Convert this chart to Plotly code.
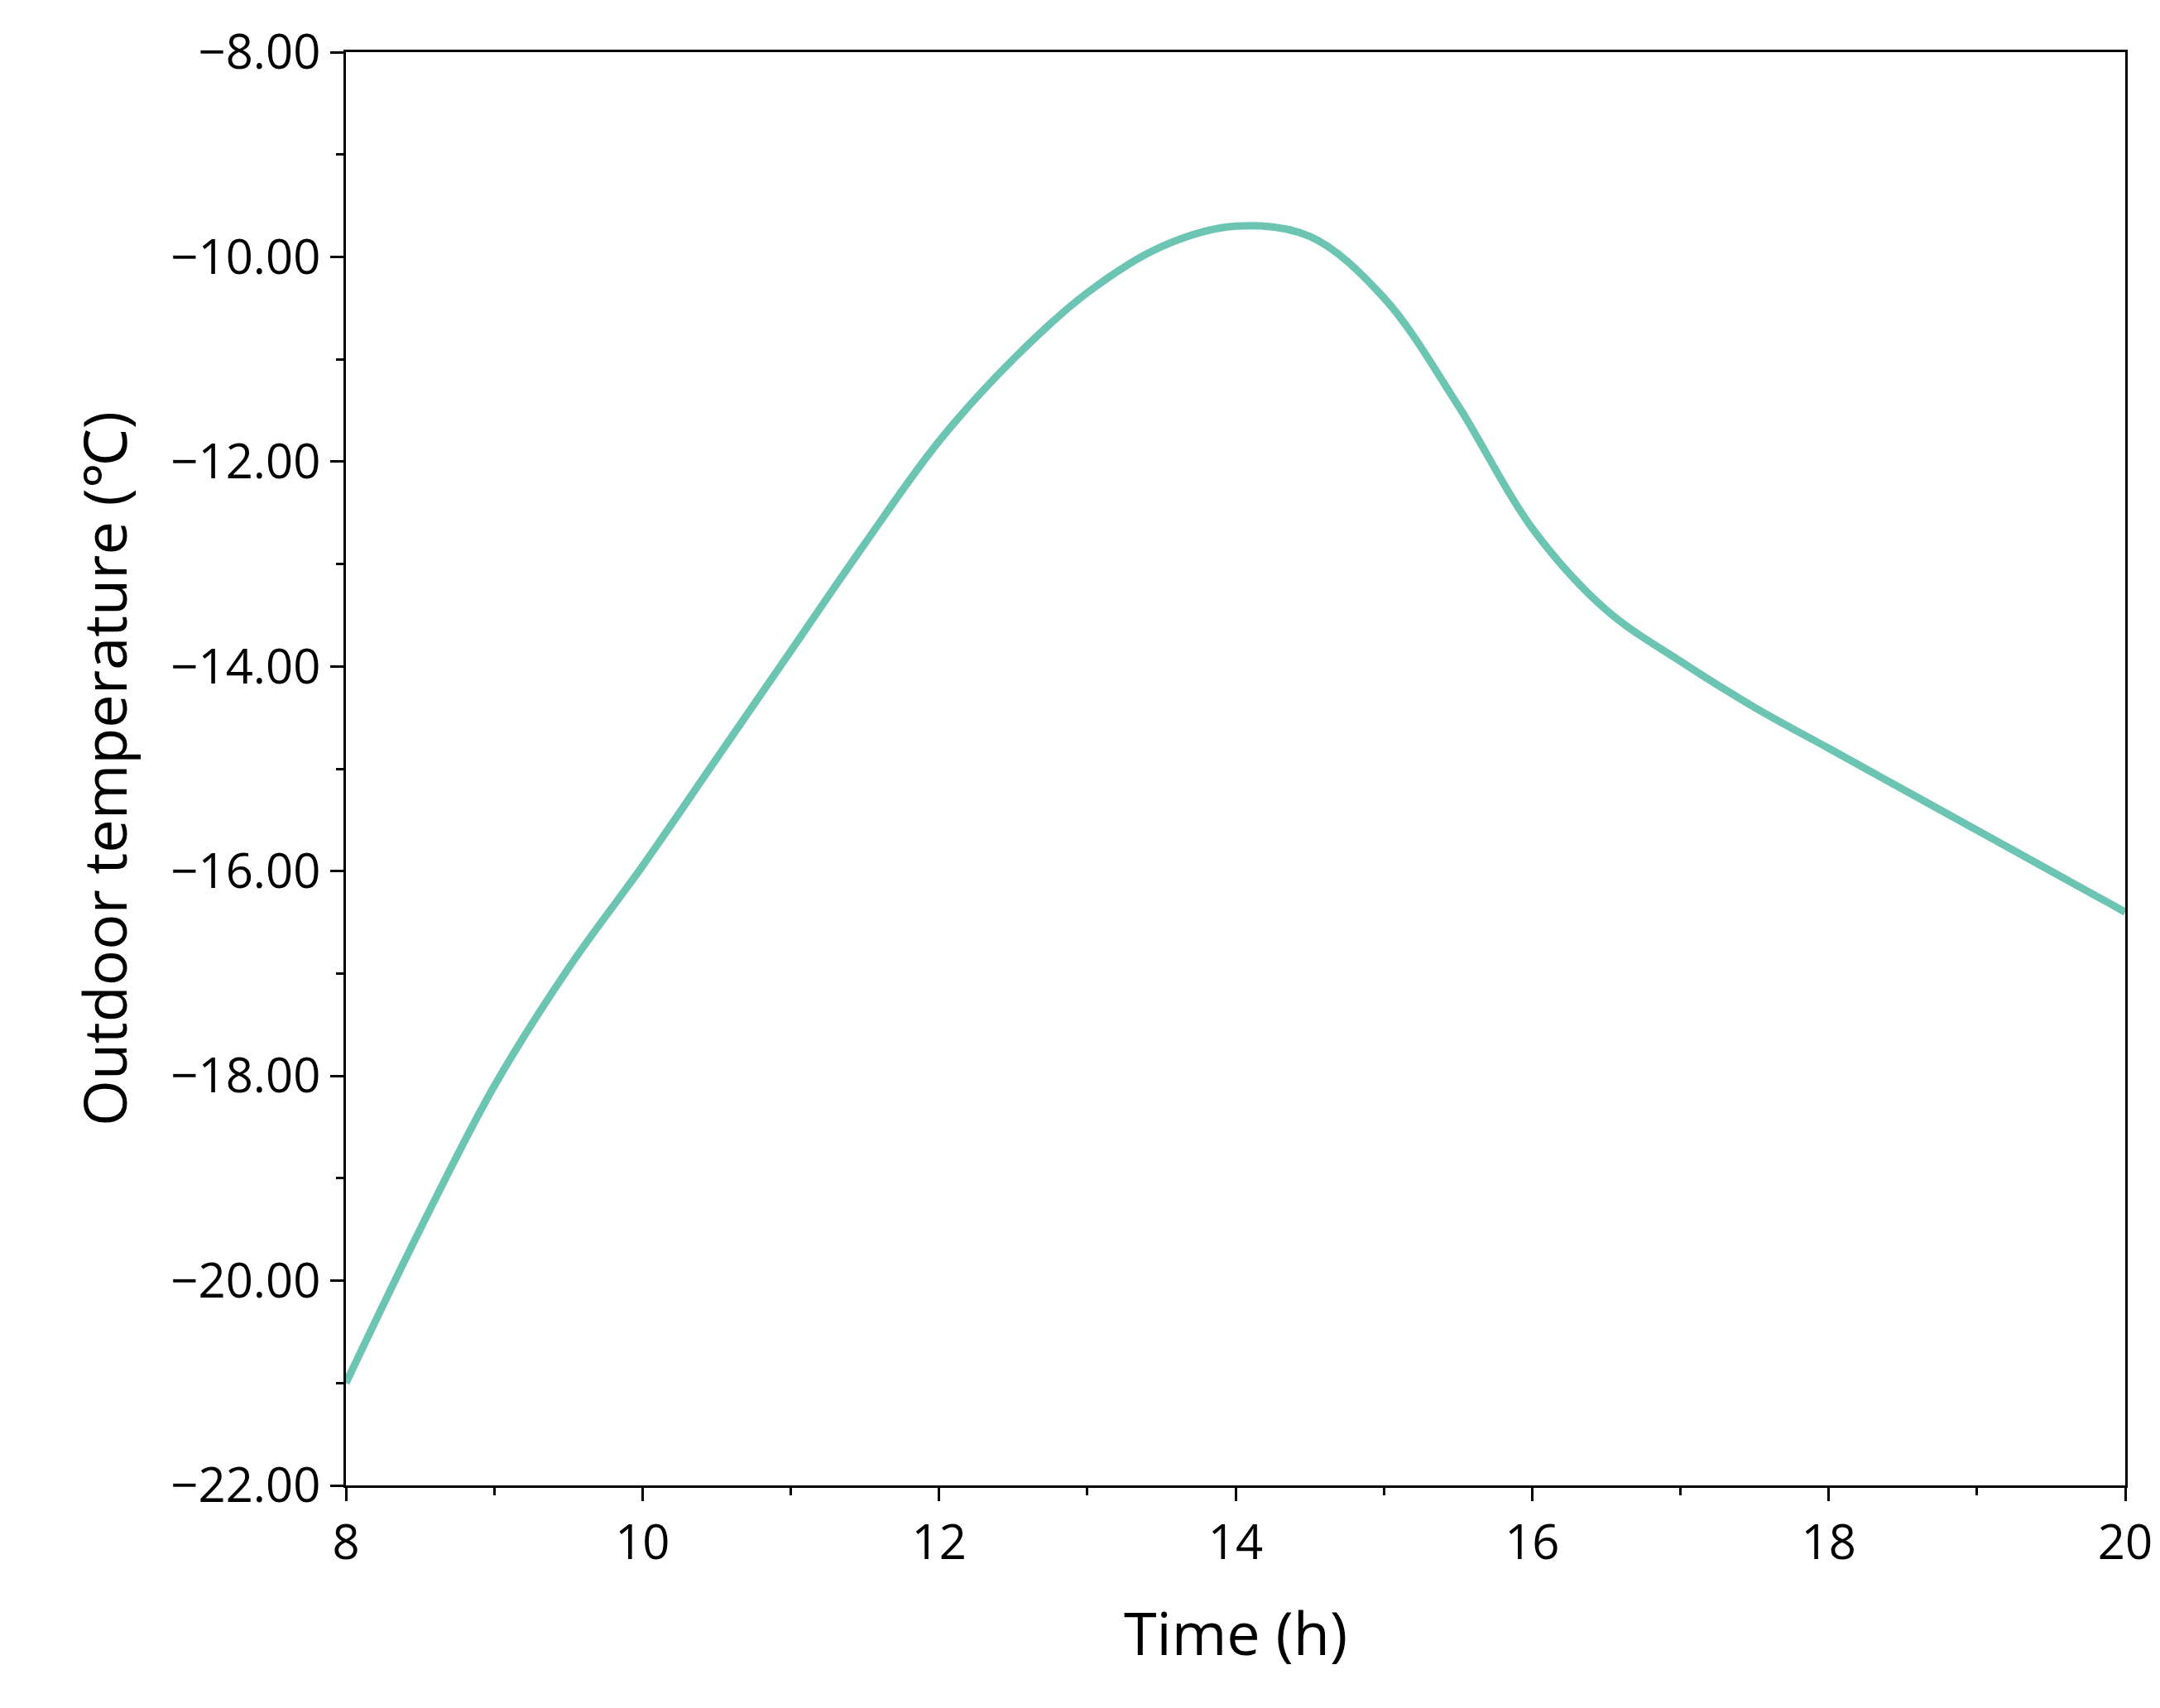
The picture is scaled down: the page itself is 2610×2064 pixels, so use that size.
import plotly.graph_objects as go

hours = [8, 8.5, 9, 9.5, 10, 10.5, 11, 11.5, 12, 12.5, 13, 13.5, 14, 14.5, 15, 15.5, 16, 16.5, 17, 17.5, 18, 18.5, 19, 19.5, 20]
temps = [-21.0, -19.5, -18.1, -16.95, -15.95, -14.9, -13.85, -12.8, -11.8, -11.0, -10.35, -9.9, -9.7, -9.8, -10.4, -11.45, -12.65, -13.45, -13.95, -14.4, -14.8, -15.2, -15.6, -16.0, -16.4]

fig = go.Figure(go.Scatter(x=hours, y=temps, mode="lines",
                           line=dict(color="#6cc5b3", width=9, shape="spline", smoothing=1.0)))

axis_common = dict(showline=True, linecolor="black", linewidth=3, mirror=True,
                   ticks="outside", ticklen=16, tickwidth=3, tickcolor="black",
                   showgrid=False, zeroline=False,
                   tickfont=dict(family="Open Sans", size=58, color="black"))
fig.update_xaxes(range=[8, 20], tickvals=[8, 10, 12, 14, 16, 18, 20],
                 minor=dict(tickvals=[9, 11, 13, 15, 17, 19], ticks="outside", ticklen=9, tickwidth=3, tickcolor="black"),
                 title=dict(text="Time (h)", font=dict(family="Open Sans", size=72, color="black"), standoff=50),
                 **axis_common)
fig.update_yaxes(range=[-22, -8], tickvals=[-22, -20, -18, -16, -14, -12, -10, -8],
                 ticktext=["\u221222.00", "\u221220.00", "\u221218.00", "\u221216.00", "\u221214.00", "\u221212.00", "\u221210.00", "\u22128.00"],
                 minor=dict(tickvals=[-21, -19, -17, -15, -13, -11, -9], ticks="outside", ticklen=9, tickwidth=3, tickcolor="black"),
                 title=dict(text="Outdoor temperature (\u2103)", font=dict(family="Open Sans", size=72, color="black"), standoff=30),
                 **axis_common)
fig.update_layout(width=2610, height=2064, plot_bgcolor="white", paper_bgcolor="white",
                  showlegend=False, margin=dict(l=410, r=50, t=55, b=277))
fig.write_html("out.html")
